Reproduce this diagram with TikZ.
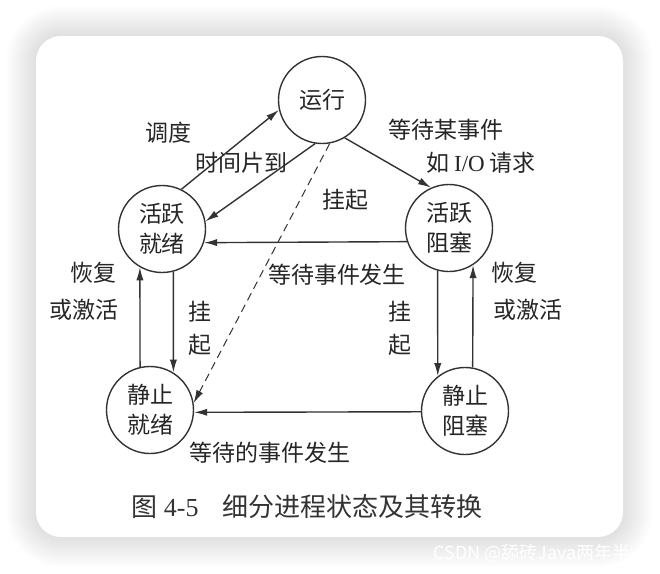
\documentclass[tikz,border=0pt]{standalone}
\usepackage{fontspec}
\setmainfont{Liberation Serif}
\newfontfamily\cjk{Noto Sans CJK SC}
\usetikzlibrary{arrows.meta}

\begin{document}
\begin{tikzpicture}[x=0.5pt, y=-0.5pt,
  state/.style={draw=black!80, line width=0.7pt, circle, minimum size=43.5pt, inner sep=0pt,
    align=center, text=black!85, font=\cjk\fontsize{11.5}{15}\selectfont},
  trans/.style={draw=black!80, line width=0.7pt, -{Latex[length=6.5pt,width=3.6pt]}},
  lbl/.style={inner sep=0pt, text=black!85, font=\cjk\fontsize{11.5}{14}\selectfont}]
\useasboundingbox (0,0) rectangle (660,574);
\fill[white] (0,0) rectangle (660,574);
\foreach \i [evaluate=\i as \rr using 12.5+\i] in {1,...,15}
  \fill[black, opacity=0.009, rounded corners=\rr pt] ({36-2*\i},{36-2*\i}) rectangle ({623+2*\i},{537+2*\i});
\fill[white, rounded corners=12.5pt] (36,36) rectangle (623,537);

\node[state] (run) at (322,100) {运行};
\node[state] (ardy) at (162,229) {活跃\\就绪};
\node[state] (ablk) at (449,228) {活跃\\阻塞};
\node[state] (srdy) at (150,410) {静止\\就绪};
\node[state] (sblk) at (465,411) {静止\\阻塞};

\draw[trans] (ardy.64) -- (run.193);
\draw[trans] (run.261) -- (ardy.10);
\draw[trans] (run.301) -- (ablk.114);
\draw[trans, line width=0.5pt, dash pattern=on 4pt off 2.5pt] (run.280) -- (srdy.9);
\draw[trans] (ablk.198) -- (ardy.342);
\draw[trans] (ardy.285) -- (srdy.58);
\draw[trans] (srdy.103) -- (ardy.240);
\draw[trans] (ablk.255) -- (sblk.128);
\draw[trans] (sblk.80) -- (ablk.303);
\draw[trans] (sblk.181) -- (srdy.357);

\node[lbl] (sched) at (168,133) {调度};
\node[lbl] (slice) at (241,163) {时间片到};
\node[lbl] (wait1) at (446,130) {等待某事件};
\node[lbl] (wait2) at (481,163) {如 {\rmfamily I/O} 请求};
\node[lbl] (susp) at (345,200) {挂起};
\node[lbl] (evt) at (337,275) {等待事件发生};
\node[lbl] (resl1) at (93,273) {恢复};
\node[lbl] (resl2) at (84,310) {或激活};
\node[lbl] (suspl1) at (200,312) {挂};
\node[lbl] (suspl2) at (200,345) {起};
\node[lbl] (suspr1) at (400,312) {挂};
\node[lbl] (suspr2) at (400,345) {起};
\node[lbl] (resr1) at (514,273) {恢复};
\node[lbl] (resr2) at (528,310) {或激活};
\node[lbl] (evt2) at (270,453) {等待的事件发生};

\node[inner sep=0pt, text=black!80, font=\fontsize{13}{15}\selectfont] (cap) at (307,507)
  {{\cjk 图} 4-5\hspace{12pt}{\cjk 细分进程状态及其转换}};
\node[anchor=west, inner sep=0pt, text=white, font=\cjk\fontsize{9}{10}\selectfont] (mark) at (433,553)
  {CSDN @舔砖Java两年半};
\end{tikzpicture}
\end{document}
